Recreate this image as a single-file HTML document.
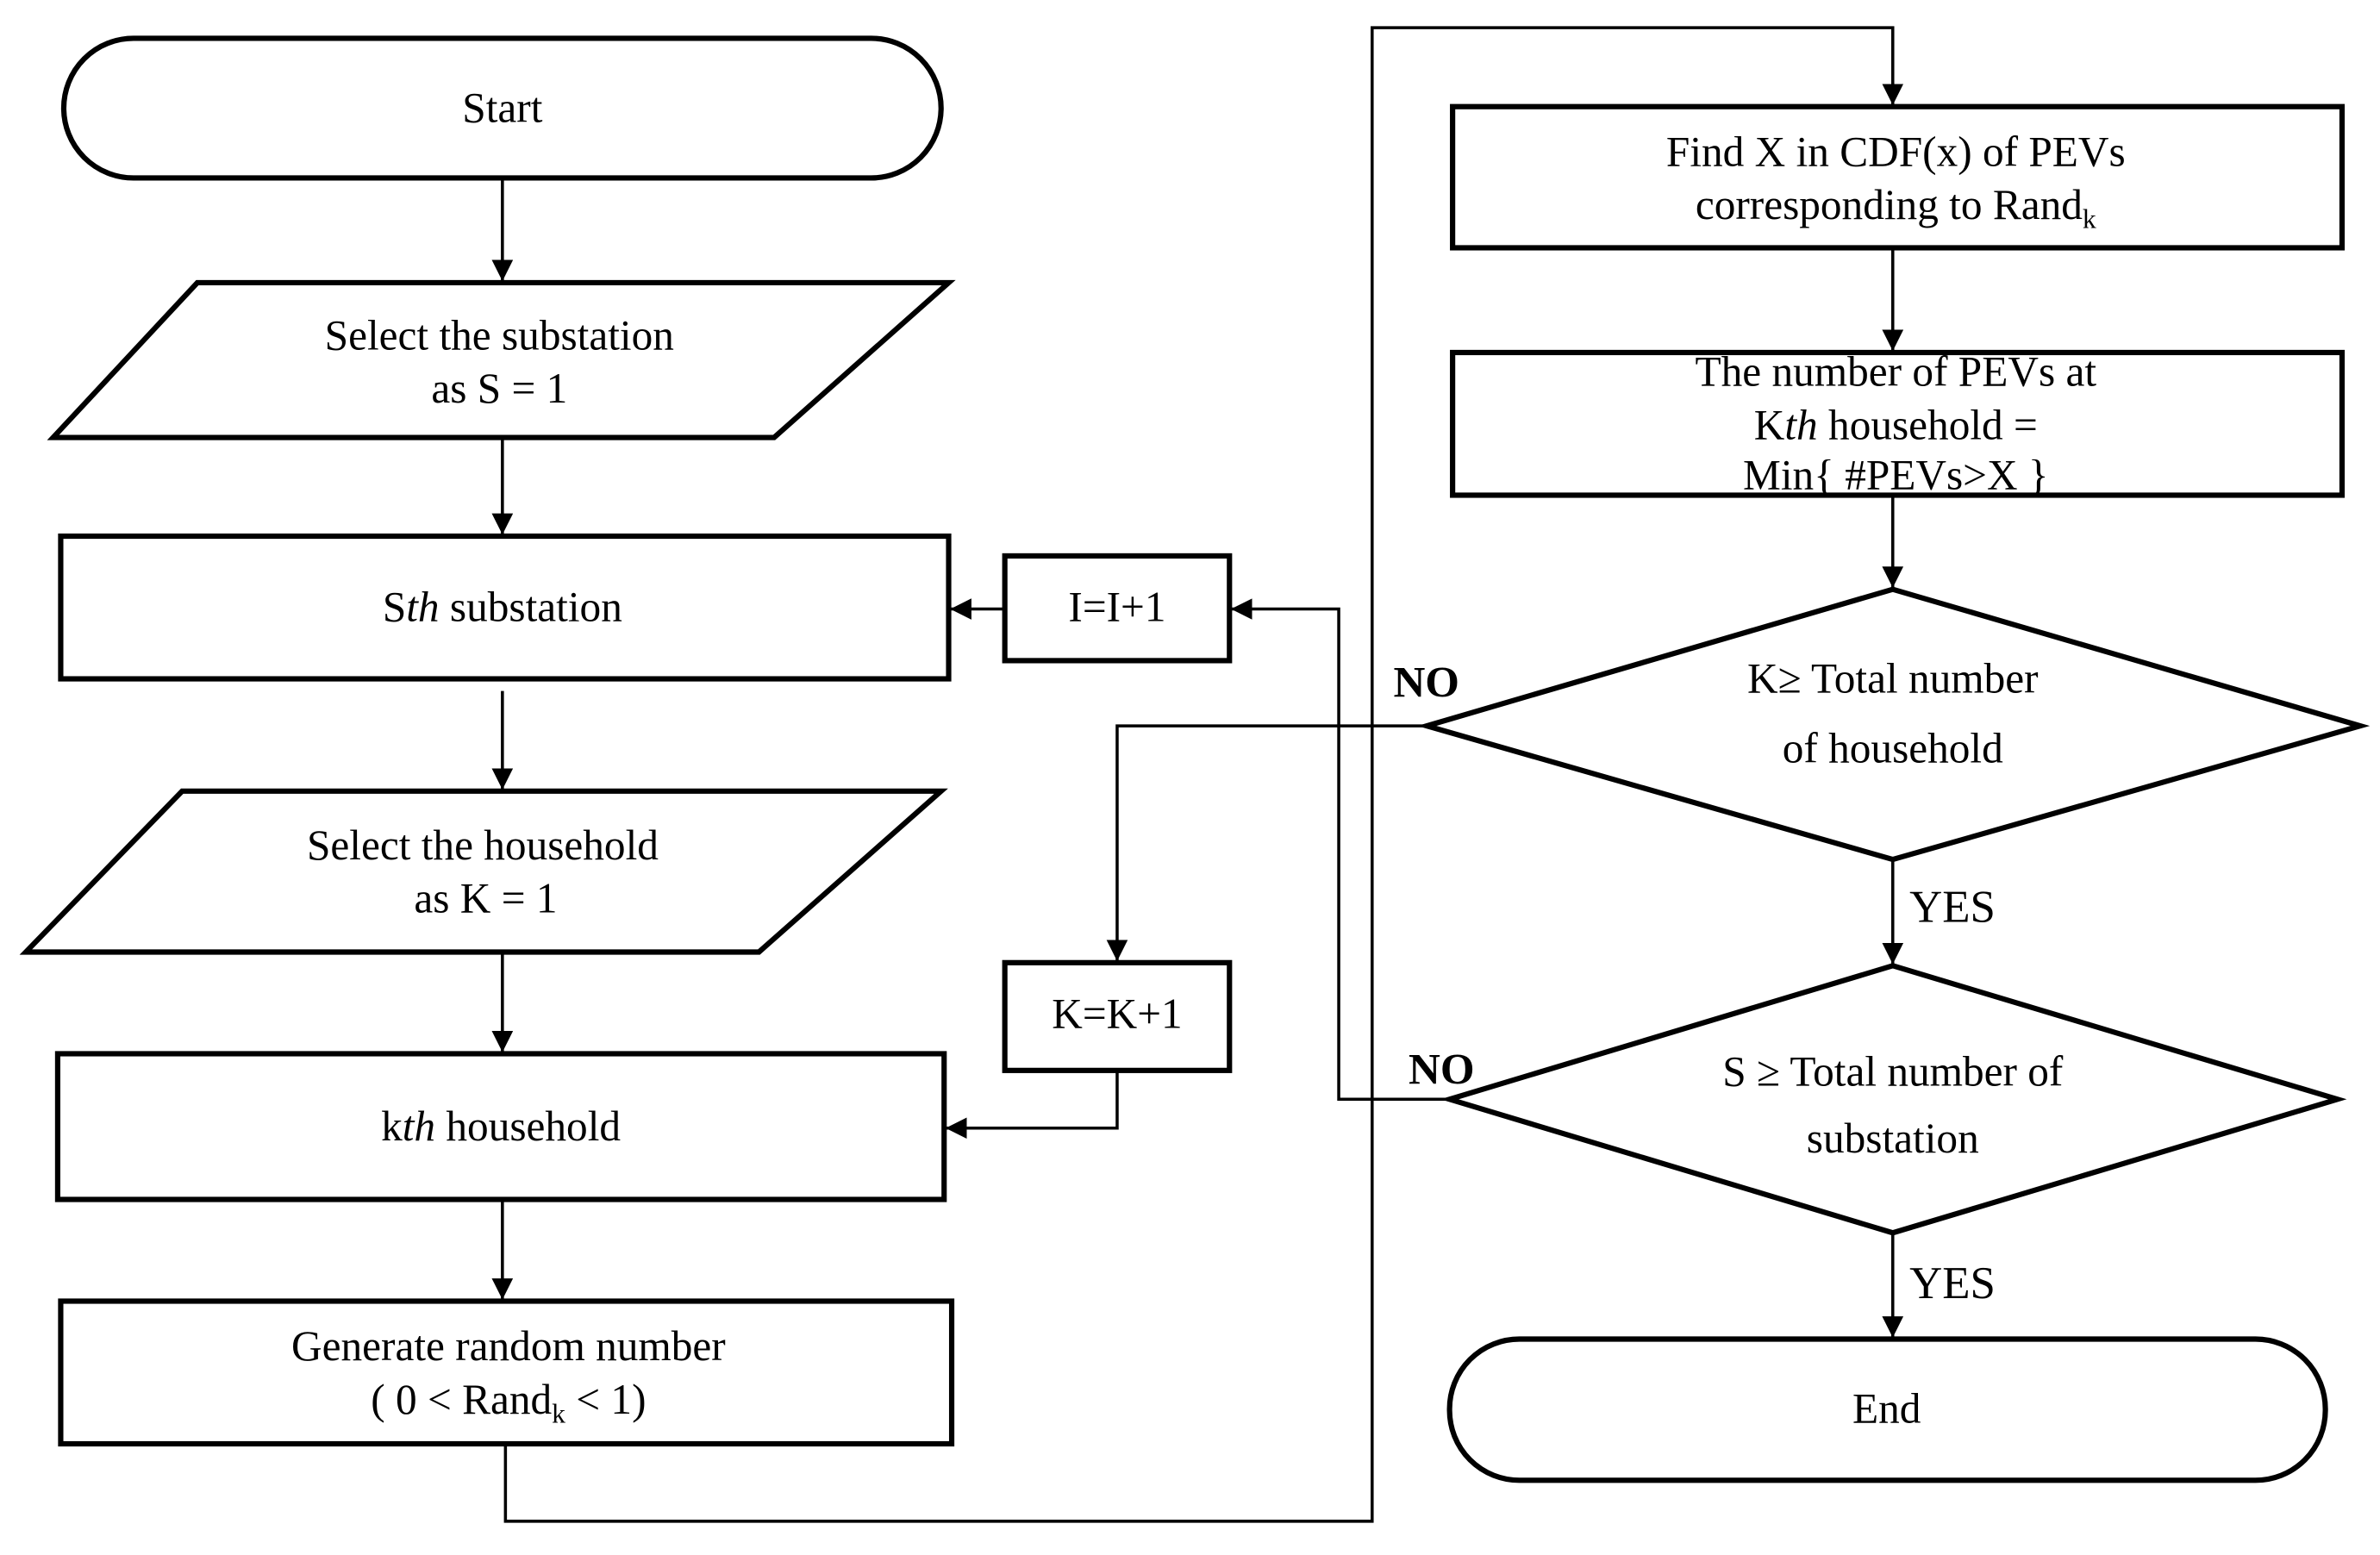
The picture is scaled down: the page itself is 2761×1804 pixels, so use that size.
<!DOCTYPE html>
<html><head><meta charset="utf-8"><style>html,body{margin:0;padding:0;background:#fff}svg{display:block}</style></head>
<body>
<svg width="2761" height="1804" viewBox="0 0 1568 1024" xmlns="http://www.w3.org/2000/svg" font-family="Liberation Serif, serif" font-size="28" fill="#000">
<defs>
<marker id="b" viewBox="0 0 10 10" markerWidth="14" markerHeight="14" refX="10" refY="5" orient="auto" markerUnits="userSpaceOnUse"><path d="M0,0 L10,5 L0,10 z" fill="#000"/></marker></defs>
<g fill="none" stroke="#000" stroke-width="3.5">
<rect x="42" y="25" width="578" height="92" rx="46"/>
<polygon points="130,186 625,186 510,288 35,288"/>
<rect x="40" y="353" width="585" height="94"/>
<polygon points="120,521 620,521 500,627 17,627"/>
<rect x="38" y="694" width="584" height="96"/>
<rect x="40" y="857" width="587" height="94"/>
<rect x="957" y="70" width="586" height="93"/>
<rect x="957" y="232" width="586" height="94"/>
<polygon points="1247,388 1555,478 1247,566 940,478"/>
<polygon points="1247,636 1540,724 1247,812 955,724"/>
<rect x="662" y="366" width="148" height="69"/>
<rect x="662" y="634" width="148" height="71"/>
<rect x="955" y="882" width="577" height="93" rx="46"/>
</g>
<g fill="none" stroke="#000" stroke-width="2" marker-end="url(#b)">
<line x1="331" y1="117" x2="331" y2="185"/>
<line x1="331" y1="288" x2="331" y2="352"/>
<line x1="331" y1="455" x2="331" y2="520"/>
<line x1="331" y1="627" x2="331" y2="693"/>
<line x1="331" y1="790" x2="331" y2="856"/>
<polyline points="333,951 333,1002 904,1002 904,18 1247,18 1247,69"/>
<line x1="1247" y1="163" x2="1247" y2="231"/>
<line x1="1247" y1="326" x2="1247" y2="387"/>
<polyline points="940,478 736,478 736,633"/>
<polyline points="736,705 736,743 623,743"/>
<line x1="1247" y1="566" x2="1247" y2="635"/>
<polyline points="955,724 882,724 882,401 811,401"/>
<line x1="662" y1="401" x2="626" y2="401"/>
<line x1="1247" y1="812" x2="1247" y2="881"/>
</g>
<g text-anchor="middle">
<text x="331" y="80">Start</text>
<text x="329" y="230">Select the substation</text>
<text x="329" y="265">as S = 1</text>
<text x="331" y="409">S<tspan font-style="italic">th</tspan> substation</text>
<text x="318" y="566">Select the household</text>
<text x="320" y="601">as K = 1</text>
<text x="330" y="751">k<tspan font-style="italic">th</tspan> household</text>
<text x="335" y="896">Generate random number</text>
<text x="335" y="931">( 0 &lt; Rand<tspan font-size="18" dy="6">k</tspan><tspan dy="-6"> &lt; 1)</tspan></text>
<text x="1249" y="109">Find X in CDF(x) of PEVs</text>
<text x="1249" y="144">corresponding to Rand<tspan font-size="18" dy="6">k</tspan></text>
<text x="1249" y="254">The number of PEVs at</text>
<text x="1249" y="289">K<tspan font-style="italic">th</tspan> household =</text>
<text x="1249" y="322">Min{ #PEVs&gt;X }</text>
<text x="1247" y="456">K≥ Total number</text>
<text x="1247" y="502">of household</text>
<text x="1247" y="715">S ≥ Total number of</text>
<text x="1247" y="759">substation</text>
<text x="736" y="409">I=I+1</text>
<text x="736" y="677">K=K+1</text>
<text x="1243" y="937">End</text>
</g>
<text x="918" y="459" font-weight="bold" font-size="29">NO</text>
<text x="928" y="714" font-weight="bold" font-size="29">NO</text>
<text x="1258" y="607" font-size="30">YES</text>
<text x="1258" y="855" font-size="30">YES</text>
</svg>
</body></html>
